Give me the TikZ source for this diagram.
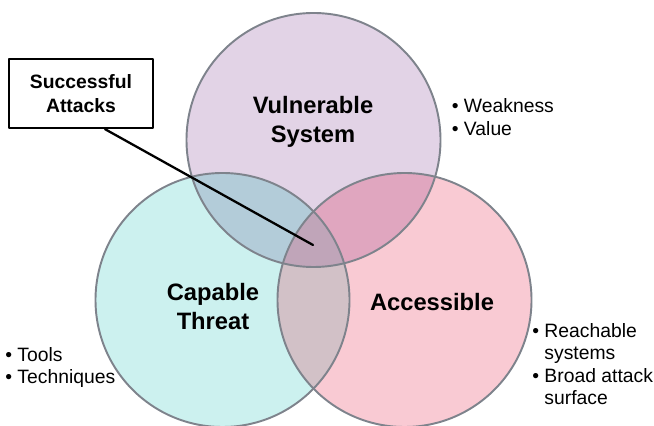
\documentclass[tikz,border=0pt]{standalone}
\usepackage{fontspec}
\setmainfont{Liberation Sans}
\usetikzlibrary{positioning}
% 円の色と重なり部分の色
\definecolor{vsys}{HTML}{E2D3E6}
\definecolor{cthr}{HTML}{CCF1EF}
\definecolor{acc}{HTML}{F9CAD3}
\definecolor{vcmix}{HTML}{B3CCD9}
\definecolor{vamix}{HTML}{E0A6BF}
\definecolor{camix}{HTML}{D2C1C7}
\definecolor{allmix}{HTML}{C0A5B9}
\definecolor{ringgray}{HTML}{7E838C}
\begin{document}
\begin{tikzpicture}[line cap=round, line join=round,
    ring/.style={draw=ringgray, line width=1.1pt},
    title/.style={font=\fontsize{13.5}{16.5}\selectfont\bfseries, align=center},
    notes/.style={font=\fontsize{11}{12.7}\selectfont, anchor=west, align=left, inner sep=0pt}]
    \useasboundingbox (0,0) rectangle (13.08,8.52);
    \pgfmathsetmacro\ringr{2.54}
    % 三つの円の中心
    \coordinate (V) at (6.27,5.72);
    \coordinate (C) at (4.45,2.52);
    \coordinate (A) at (8.09,2.52);
    % --- 塗りつぶし ---
    \fill[vsys] (V) circle (\ringr);
    \fill[cthr] (C) circle (\ringr);
    \fill[acc] (A) circle (\ringr);
    % 二つずつの重なり
    \begin{scope}
        \clip (V) circle (\ringr);
        \fill[vcmix] (C) circle (\ringr);
        \fill[vamix] (A) circle (\ringr);
    \end{scope}
    \begin{scope}
        \clip (C) circle (\ringr);
        \fill[camix] (A) circle (\ringr);
        % 三つの重なり
        \clip (V) circle (\ringr);
        \fill[allmix] (A) circle (\ringr);
    \end{scope}
    % --- 円の輪郭 ---
    \draw[ring] (V) circle (\ringr);
    \draw[ring] (C) circle (\ringr);
    \draw[ring] (A) circle (\ringr);
    % --- ラベル ---
    \node[title] (vlab) at (6.26,6.08) {Vulnerable\\System};
    \node[title] (clab) at (4.26,2.38) {Capable\\Threat};
    \node[title] (alab) at (8.64,2.48) {Accessible};
    % --- 箇条書き ---
    \node[notes] (vnote) at (9.03,6.18) {\textbullet\ Weakness\\\textbullet\ Value};
    \node[notes] (cnote) at (0.1,1.17) {\textbullet\ Tools\\\textbullet\ Techniques};
    \node[notes] (anote) at (10.64,1.19) {%
        \begin{tabular}{@{}l@{\ }l@{}}
            \textbullet & Reachable\\
                        & systems\\
            \textbullet & Broad attack\\
                        & surface
        \end{tabular}};
    % --- 吹き出し ---
    \node[draw, fill=white, line width=1.3pt, minimum width=2.88cm, minimum height=1.38cm,
        font=\fontsize{11}{14}\selectfont\bfseries, align=center] (call) at (1.62,6.65) {Successful\\Attacks};
    \coordinate (hit) at (6.26,3.62);
    \draw[line width=1.3pt] ([xshift=0.48cm]call.south) -- (hit);
\end{tikzpicture}
\end{document}
